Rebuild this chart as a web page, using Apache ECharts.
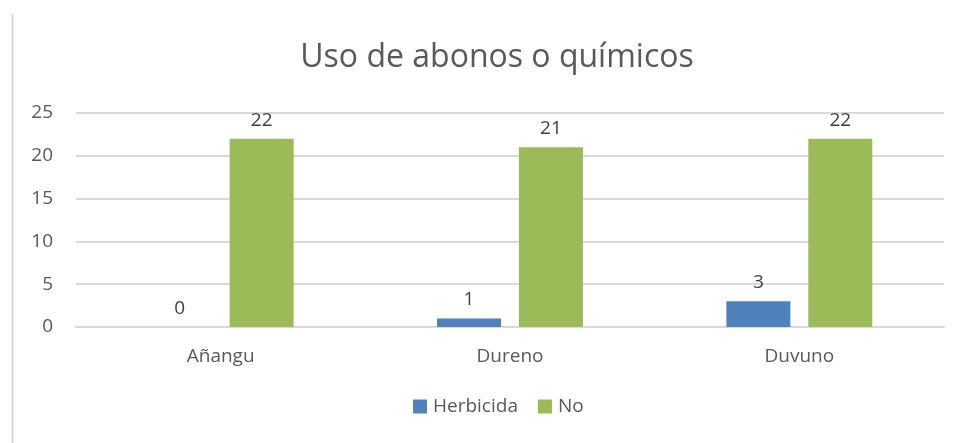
<!DOCTYPE html>
<html>
<head>
<meta charset="utf-8">
<script src="https://cdn.jsdelivr.net/npm/echarts@6/dist/echarts.min.js"></script>
<style>
  html, body { margin: 0; padding: 0; background: #fff; }
  #chart { width: 962px; height: 443px; }
</style>
</head>
<body>
<div id="chart"></div>
<script>
const categories = ["Añangu", "Dureno", "Duvuno"];
const herbicida = [0, 1, 3];
const no = [22, 21, 22];
const yTicks = { min: 0, max: 25, interval: 5 };

const chartDom = document.getElementById("chart");
const myChart = echarts.init(chartDom);
const font = "'Open Sans', 'Noto Sans', sans-serif";

const options = {
  textStyle: { fontFamily: font },
  title: {
    text: "Uso de abonos o químicos",
    left: 492,
    top: 37,
    textAlign: "center",
    textStyle: { fontFamily: font, fontSize: 32, fontWeight: "normal", color: "#595959" },
  },
  graphic: [
    {
      type: "line",
      shape: { x1: 12.5, y1: 14, x2: 12.5, y2: 443 },
      style: { stroke: "#d9d9d9", lineWidth: 2 },
    },
  ],
  legend: {
    bottom: 22,
    left: 408,
    icon: "rect",
    itemWidth: 14,
    itemHeight: 14,
    itemGap: 20,
    textStyle: { fontFamily: font, fontSize: 19, color: "#595959", padding: [0, 0, 0, 1] },
    data: ["Herbicida", "No"],
  },
  grid: { left: 76, right: 18, top: 113, bottom: 116 },
  xAxis: {
    type: "category",
    data: categories,
    axisLine: { lineStyle: { color: "#d9d9d9", width: 2 } },
    axisTick: { show: false },
    axisLabel: { fontFamily: font, fontSize: 19, color: "#595959", margin: 20 },
  },
  yAxis: {
    type: "value",
    min: yTicks.min,
    max: yTicks.max,
    interval: yTicks.interval,
    axisLine: { show: false },
    axisTick: { show: false },
    splitLine: { lineStyle: { color: "#d9d9d9", width: 2 } },
    axisLabel: { fontFamily: font, fontSize: 19, color: "#595959", margin: 23 },
  },
  series: [
    {
      name: "Herbicida",
      type: "bar",
      data: herbicida,
      barWidth: 64,
      barGap: "28%",
      itemStyle: { color: "#4f81bd" },
      label: { show: true, position: "top", distance: 9, fontSize: 19, color: "#404040", fontFamily: font },
    },
    {
      name: "No",
      type: "bar",
      data: no,
      barWidth: 64,
      barGap: "28%",
      itemStyle: { color: "#9bbb59" },
      label: { show: true, position: "top", distance: 9, fontSize: 19, color: "#404040", fontFamily: font },
    },
  ],
};
myChart.setOption(options);
</script>
</body>
</html>
